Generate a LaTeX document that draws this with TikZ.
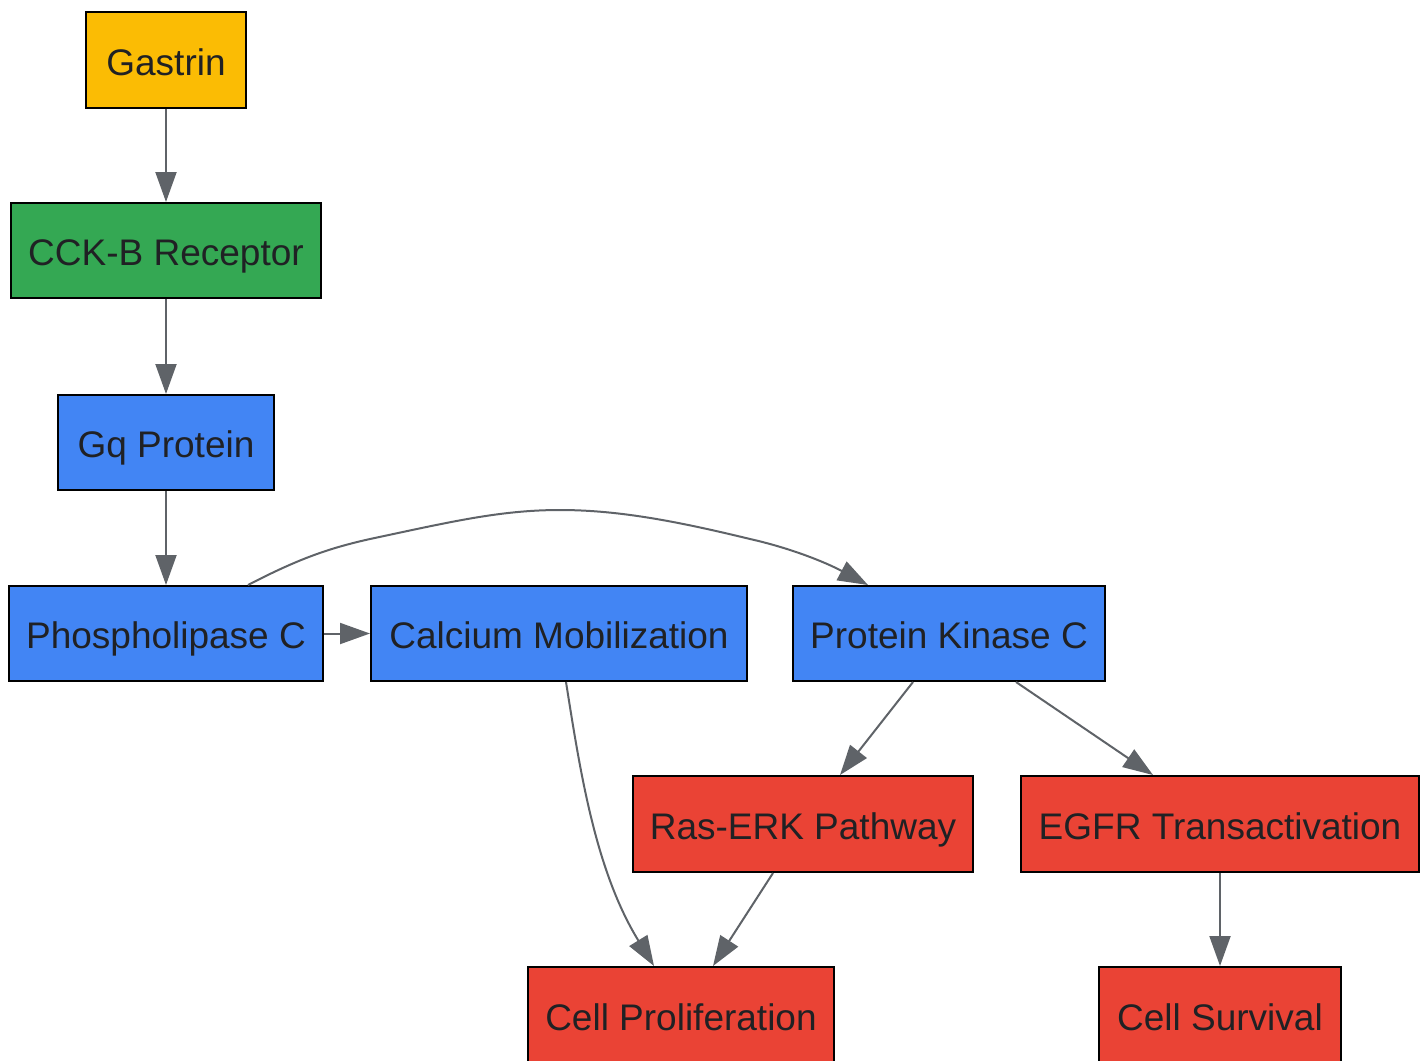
\documentclass[tikz,border=0pt]{standalone}
\usepackage{fontspec}
\setmainfont{Liberation Sans}
\usetikzlibrary{arrows.meta}
\definecolor{cyel}{HTML}{FBBC04}
\definecolor{cgrn}{HTML}{34A853}
\definecolor{cblu}{HTML}{4285F4}
\definecolor{cred}{HTML}{EA4335}
\definecolor{ctxt}{HTML}{202124}
\definecolor{cedge}{HTML}{5F6368}
\begin{document}
\begin{tikzpicture}[x=1pt,y=-1pt,
  box/.style={draw=black,line width=2pt,rectangle,inner sep=0pt,text=ctxt,
    text height=34pt,text depth=4pt,
    font=\fontsize{37}{44}\selectfont,anchor=center},
  conn/.style={draw=cedge,line width=2pt,-{Triangle[length=30pt,width=21pt]}}]
\useasboundingbox (0,0) rectangle (1423,1060);
\node[box,fill=cyel,minimum width=160pt,minimum height=96pt] (gas) at (166,60) {Gastrin};
\node[box,fill=cgrn,minimum width=310pt,minimum height=95pt] (cck) at (166,250.5) {CCK-B Receptor};
\node[box,fill=cblu,minimum width=216pt,minimum height=95pt] (gq) at (166,442.5) {Gq Protein};
\node[box,fill=cblu,minimum width=314pt,minimum height=95pt] (plc) at (166,633.5) {Phospholipase C};
\node[box,fill=cblu,minimum width=376pt,minimum height=95pt] (cal) at (559,633.5) {Calcium Mobilization};
\node[box,fill=cblu,minimum width=312pt,minimum height=95pt] (pkc) at (949,633.5) {Protein Kinase C};
\node[box,fill=cred,minimum width=340pt,minimum height=96pt] (ras) at (803,824) {Ras-ERK Pathway};
\node[box,fill=cred,minimum width=398pt,minimum height=96pt] (egfr) at (1220,824) {EGFR Transactivation};
\node[box,fill=cred,minimum width=306pt,minimum height=96pt] (pro) at (681,1015) {Cell Proliferation};
\node[box,fill=cred,minimum width=242pt,minimum height=96pt] (sur) at (1220,1015) {Cell Survival};
\draw[conn] (gas) -- (cck);
\draw[conn] (cck) -- (gq);
\draw[conn] (gq) -- (plc);
\draw[conn] (plc) -- (cal);
\draw[conn] ([xshift=82pt]plc.north) .. controls (300,558) and (330,548) .. (370,539)
  .. controls (450,522) and (500,510) .. (560,510)
  .. controls (620,510) and (680,522) .. (750,539)
  .. controls (790,548) and (825,562) .. ([xshift=-81pt]pkc.north);
\draw[conn] ([xshift=7pt]cal.south) .. controls (580,770) and (595,870) .. ([xshift=-27pt]pro.north);
\draw[conn] ([xshift=-30pt]ras.south) -- ([xshift=32pt]pro.north);
\draw[conn] ([xshift=-36pt]pkc.south) -- ([xshift=37pt]ras.north);
\draw[conn] ([xshift=67pt]pkc.south) -- ([xshift=-67pt]egfr.north);
\draw[conn] (egfr) -- (sur);
\end{tikzpicture}
\end{document}
